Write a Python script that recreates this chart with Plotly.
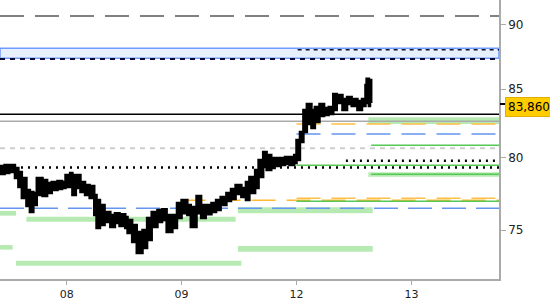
import numpy as np
import plotly.graph_objects as go

# ---------------- data ----------------
day_ticks = [1, 2, 3, 4]
day_labels = ["08", "09", "12", "13"]
x_start, x_end = 0.42, 4.762
y_min, y_max = 71.81, 92.02
y_ticks = [75, 80, 85, 90]

t = [0.42, 0.46, 0.50, 0.55, 0.58, 0.61, 0.65, 0.68, 0.71, 0.74,
     0.79, 0.83, 0.87, 0.92, 0.96, 0.99, 1.03, 1.05, 1.08, 1.12,
     1.16, 1.20, 1.24, 1.26, 1.29, 1.33, 1.38, 1.42, 1.46, 1.51,
     1.53, 1.57, 1.61, 1.66, 1.70, 1.74, 1.79, 1.83, 1.87, 1.92,
     1.96, 2.00, 2.05, 2.08, 2.13, 2.17, 2.21, 2.26, 2.30, 2.34,
     2.39, 2.43, 2.47, 2.52, 2.56, 2.59, 2.64, 2.67, 2.71, 2.74,
     2.78, 2.81, 2.86, 2.90, 2.94, 2.98, 3.00, 3.03, 3.06, 3.09,
     3.13, 3.16, 3.20, 3.24, 3.28, 3.32, 3.35, 3.40, 3.44, 3.48,
     3.53, 3.57, 3.60, 3.61, 3.63, 3.65]

high = [79.40, 79.47, 79.47, 79.26, 78.98, 78.56, 77.72, 77.58, 77.51, 78.56,
        78.42, 78.21, 78.28, 78.35, 78.28, 78.77, 78.91, 78.77, 78.77, 78.28,
        78.07, 78.00, 77.38, 77.03, 76.69, 76.21, 76.01, 76.14, 76.07, 75.88,
        75.68, 75.34, 74.87, 75.01, 75.81, 76.21, 76.35, 76.41, 76.01, 76.01,
        76.83, 77.03, 76.69, 76.55, 77.31, 76.69, 76.69, 76.83, 77.03, 77.24,
        77.51, 77.79, 78.07, 77.86, 78.28, 78.63, 79.12, 79.82, 80.40, 80.18,
        79.96, 79.96, 79.96, 80.03, 80.03, 80.18, 81.25, 81.83, 83.45, 83.90,
        83.45, 83.67, 83.90, 83.60, 83.67, 84.65, 84.57, 84.27, 84.42, 84.27,
        84.12, 84.27, 85.33, 85.79, 85.71, 83.97]

low = [78.84, 78.91, 78.98, 78.56, 77.93, 77.17, 76.62, 76.21, 76.69, 77.38,
       77.31, 77.51, 77.72, 77.79, 77.86, 77.93, 78.14, 77.38, 77.86, 77.58,
       77.38, 77.17, 76.01, 75.14, 75.34, 75.54, 75.21, 75.48, 75.27, 75.14,
       74.81, 74.21, 73.49, 73.82, 74.34, 75.21, 75.54, 75.68, 74.87, 75.14,
       75.81, 76.14, 76.01, 75.21, 76.14, 75.81, 76.07, 76.21, 76.35, 76.69,
       76.97, 77.10, 77.44, 77.24, 77.03, 77.51, 77.86, 78.63, 79.33, 79.12,
       79.26, 79.40, 79.47, 79.54, 79.47, 79.61, 79.82, 81.10, 81.83, 82.42,
       82.13, 82.57, 83.01, 83.08, 83.16, 83.45, 83.97, 83.45, 83.90, 83.75,
       83.45, 83.75, 83.97, 84.80, 83.75, 83.75]

last_price = 83.86

# green zones: start day, end day, low, high
zone_start = [0.42, 0.65, 2.49, 0.42, 2.49, 0.56, 3.625, 3.625]
zone_end   = [0.56, 2.47, 3.663, 0.53, 3.663, 2.52, 4.762, 4.762]
zone_low   = [75.97, 75.56, 76.13, 73.71, 73.57, 72.66, 82.42, 78.65]
zone_high  = [76.29, 75.90, 76.54, 74.01, 73.95, 72.99, 82.92, 78.96]

# blue channel band
band_low, band_high = 87.37, 88.16

# horizontal levels (value, start day)
lvl_gray_long = (90.72, 0.42)
lvl_black_dash_top = (88.04, 3.01)
lvl_black_dash = (87.32, 0.42)
lvl_black_solid = (83.13, 0.42)
lvl_gray_solid = (82.62, 0.42)
lvl_orange_hi = (82.42, 3.0)
lvl_blue_hi = (81.69, 3.0)
lvl_green_a = (80.87, 3.65)
lvl_lightgray = (80.66, 0.42)
lvl_dot_hi = (79.77, 3.43)
lvl_green_b = (79.45, 3.0)
lvl_dot_lo = (79.29, 0.42)
lvl_green_c = (78.82, 3.65)
lvl_orange_a = (77.15, 3.0)
lvl_orange_b = (77.01, 2.0)
lvl_green_d = (76.94, 3.0)
lvl_blue_lo = (76.47, 0.42)

# ---------------- figure ----------------
fig = go.Figure()

def hline(level, color, width, dash):
    v, x0 = level
    fig.add_trace(go.Scatter(x=[x0, x_end], y=[v, v], mode="lines",
                             line=dict(color=color, width=width, dash=dash),
                             hoverinfo="skip", showlegend=False))

GREEN_FILL = "rgb(182,234,178)"
for x0, x1, lo, hi in zip(zone_start, zone_end, zone_low, zone_high):
    fig.add_trace(go.Scatter(x=[x0, x1, x1, x0, x0], y=[lo, lo, hi, hi, lo],
                             mode="lines", fill="toself", fillcolor=GREEN_FILL,
                             line=dict(width=0, color=GREEN_FILL),
                             hoverinfo="skip", showlegend=False))

# blue band
fig.add_trace(go.Scatter(x=[x_start, x_end, x_end, x_start, x_start],
                         y=[band_low, band_low, band_high, band_high, band_low],
                         mode="lines", fill="toself", fillcolor="rgb(232,239,253)",
                         line=dict(width=1.5, color="rgb(110,155,255)"),
                         hoverinfo="skip", showlegend=False))

hline(lvl_gray_long, "rgb(128,128,128)", 2, "24px,11px")
hline(lvl_black_dash_top, "rgb(20,20,40)", 1.5, "4px,4px")
hline(lvl_black_dash, "rgb(10,10,50)", 2, "5px,5px")
hline(lvl_black_solid, "black", 1.5, "solid")
hline(lvl_gray_solid, "rgb(170,170,170)", 1.5, "solid")
hline(lvl_orange_hi, "rgb(255,190,70)", 1.5, "24px,11px")
hline(lvl_blue_hi, "rgb(100,150,240)", 1.5, "24px,11px")
hline(lvl_green_a, "rgb(85,200,85)", 1.5, "solid")
hline(lvl_lightgray, "rgb(205,205,205)", 2, "5px,5px")
hline(lvl_dot_hi, "black", 2.5, "2px,5px")
hline(lvl_green_b, "rgb(85,200,85)", 1.5, "solid")
hline(lvl_dot_lo, "black", 2.5, "2px,5px")
hline(lvl_green_c, "rgb(85,200,85)", 1.5, "solid")
hline(lvl_orange_a, "rgb(255,190,70)", 1.5, "24px,11px")
hline(lvl_orange_b, "rgb(255,185,50)", 1.5, "24px,11px")
hline(lvl_green_d, "rgb(85,200,85)", 1.5, "solid")
hline(lvl_blue_lo, "rgb(100,150,240)", 1.5, "24px,10px")

# price ribbon
fig.add_trace(go.Scatter(x=t, y=low, mode="lines", line=dict(color="black", width=2.5, shape="hv"),
                         hoverinfo="skip", showlegend=False))
fig.add_trace(go.Scatter(x=t, y=high, mode="lines", line=dict(color="black", width=2.5, shape="hv"),
                         fill="tonexty", fillcolor="black",
                         hoverinfo="skip", showlegend=False))

# invisible trace for the overlay axis carrying the last-price tick
fig.add_trace(go.Scatter(x=[t[-1]], y=[last_price], yaxis="y2", mode="markers",
                         marker=dict(opacity=0), hoverinfo="skip", showlegend=False))

yrange = [np.log10(y_min), np.log10(y_max)]
FONT = dict(family="DejaVu Sans", size=11, color="#222")

fig.update_layout(
    width=550, height=300,
    margin=dict(l=0, r=51, t=0, b=21),
    paper_bgcolor="white", plot_bgcolor="white",
    showlegend=False,
    xaxis=dict(range=[x_start, x_end], tickvals=day_ticks, ticktext=day_labels,
               showgrid=False, zeroline=False, showline=True, linecolor="#aaaaaa",
               linewidth=1.5, ticks="outside", ticklen=4, tickcolor="#aaaaaa",
               tickfont=FONT, fixedrange=True),
    yaxis=dict(type="log", range=yrange, side="right", tickvals=y_ticks,
               ticktext=[str(v) for v in y_ticks], showgrid=False, zeroline=False,
               showline=True, linecolor="#aaaaaa", linewidth=1.5, ticks="outside",
               ticklen=5, tickcolor="#aaaaaa", tickfont=dict(family="DejaVu Sans", size=12, color="#222"),
               fixedrange=True),
    yaxis2=dict(type="log", range=yrange, overlaying="y", side="right",
                tickvals=[last_price], ticktext=[""], showgrid=False, zeroline=False,
                showline=False, ticks="outside", ticklen=5, tickcolor="black",
                tickwidth=1.5, fixedrange=True),
)

fig.add_annotation(x=1, xref="paper", y=np.log10(last_price), yref="y",
                   xanchor="left", yanchor="middle", xshift=6, yshift=-3,
                   text=f"{last_price:.3f}".replace(".", ","), showarrow=False,
                   font=dict(family="DejaVu Sans", size=12, color="black"),
                   bgcolor="rgb(255,204,0)", bordercolor="rgb(225,175,0)",
                   borderwidth=1, borderpad=2)

fig.write_html("out.html")
